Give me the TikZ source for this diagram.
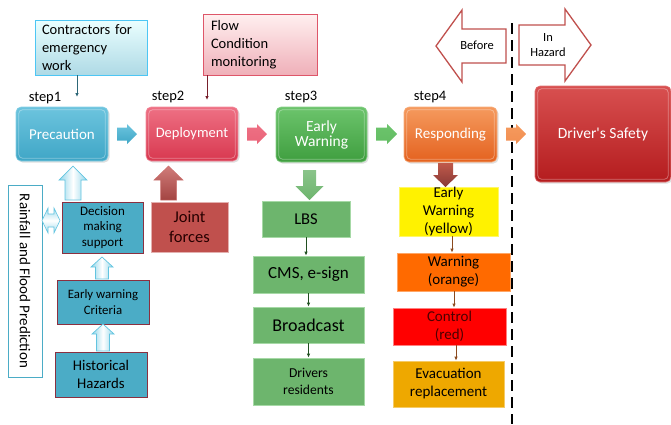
\documentclass[tikz,border=0pt]{standalone}
\usepackage{fontspec}
\setmainfont{Carlito}
\usetikzlibrary{arrows.meta,calc,shadows}
\definecolor{precC}{HTML}{3FA6C6}
\definecolor{precT}{HTML}{6CC4DE}
\definecolor{depC}{HTML}{D8384F}
\definecolor{depT}{HTML}{EE7084}
\definecolor{ewC}{HTML}{3F9E3F}
\definecolor{ewT}{HTML}{6CC46C}
\definecolor{resC}{HTML}{E4621F}
\definecolor{resT}{HTML}{F59A5E}
\definecolor{dsC}{HTML}{B41C1E}
\definecolor{dsT}{HTML}{D85050}
\definecolor{hazB}{HTML}{4BACC6}
\definecolor{hazE}{HTML}{8B3040}
\definecolor{jfC}{HTML}{C0504D}
\definecolor{grC}{HTML}{6DB56D}
\definecolor{grE}{HTML}{A6D9A6}
\definecolor{ambC}{HTML}{EEA800}
\definecolor{orC}{HTML}{FF6A00}
\definecolor{brC}{HTML}{8B4A1E}
\definecolor{lbl}{HTML}{A8DDF0}
\definecolor{lblE}{HTML}{62C4E0}
\newcommand\hblock[7]{\draw[#1] (#2,#5-#6) -- (#3,#5-#6) -- (#3,#5-#7) -- (#4,#5) -- (#3,#5+#7) -- (#3,#5+#6) -- (#2,#5+#6) -- cycle;}
\newcommand\vblock[7]{\draw[#1] (#5-#6,#2) -- (#5-#6,#3) -- (#5-#7,#3) -- (#5,#4) -- (#5+#7,#3) -- (#5+#6,#3) -- (#5+#6,#2) -- cycle;}
\tikzset{
  fs/.code={\pgfmathsetmacro\fsb{#1*1.2}\edef\fsx{\noexpand\fontsize{#1}{\fsb}\noexpand\selectfont}\tikzset{font/.expand once=\fsx}},
  fsl/.code 2 args={\edef\fsx{\noexpand\fontsize{#1}{#2}\noexpand\selectfont}\tikzset{font/.expand once=\fsx}},
  stepbox/.style={rounded corners=5pt, draw=#1T!80!white, line width=0.6pt, top color=#1T, bottom color=#1C, text=white, align=center, inner sep=0pt, drop shadow={opacity=0.25,shadow xshift=1.5pt,shadow yshift=-1.5pt}},
  steplbl/.style={fs=14.5, inner sep=0pt},
  flatbox/.style={draw=#1, line width=0.8pt, align=center, inner sep=0pt},
  thinarr/.style={-{Latex[length=4pt,width=3.5pt]}, line width=0.8pt},
}
\begin{document}
\begin{tikzpicture}[x=1pt,y=-1pt]
\useasboundingbox (0,0) rectangle (671,424);

% top note boxes
\node[flatbox=cyan!70!white, top color=cyan!8!white, bottom color=hazB!45!white, minimum width=112pt, minimum height=55pt, fsl={14.5}{18}, align=left, text width=98pt] (contr) at (91,47.5) {Contractors for\\emergency\\work};
\node[flatbox=depC!85!white, top color=red!6!white, bottom color=depC!40!white, minimum width=114pt, minimum height=61pt, fsl={14.5}{18}, align=left, text width=98pt] (flow) at (260,44.5) {Flow\\Condition\\monitoring};

% step labels
\node[steplbl] (s1) at (45,98) {step1};
\node[steplbl] (s2) at (168,97) {step2};
\node[steplbl] (s3) at (301,97) {step3};
\node[steplbl] (s4) at (430,97) {step4};

% step boxes
\node[stepbox=prec, minimum width=92pt, minimum height=54pt, fs=15] (prec) at (62,134) {Precaution};
\node[stepbox=dep, minimum width=92pt, minimum height=54pt, fs=14.5] (dep) at (192,134) {Deployment};
\node[stepbox=ew, minimum width=91pt, minimum height=55pt, fsl={15.5}{15}] (ew) at (321.5,134.5) {Early\\Warning};
\node[stepbox=res, minimum width=93pt, minimum height=55pt, fs=15] (res) at (450.5,134.5) {Responding};
\node[stepbox=ds, minimum width=136pt, minimum height=96pt, fs=15.5] (ds) at (603,134) {Driver\textquotesingle s Safety};
\foreach \n in {prec,dep,ew,res,ds}{
  \draw[white, opacity=0.35, line width=0.8pt, rounded corners=4pt] ([shift={(3,3)}]\n.north west) rectangle ([shift={(-3,-3)}]\n.south east);
}

% thin arrows from note boxes
\coordinate (c1) at (77,97);
\coordinate (c2) at (207,100);
\draw[thinarr, draw=hazB!60!black] (contr.south -| c1) -- (c1);
\draw[thinarr, draw=depC!55!black] (flow.south -| c2) -- (c2);

% before / in hazard arrows
\hblock{draw=jfC, line width=1.3pt, fill=white}{506}{462}{436}{46}{17}{36}
\hblock{draw=jfC, line width=1.3pt, fill=white}{519}{565}{591}{45}{20}{36}
\node[fs=12.5, inner sep=0pt] (before) at (477,45) {Before};
\node[fs=12.5, inner sep=0pt, align=center] (inhaz) at (548,45) {In\\Hazard};

% dashed separator
\coordinate (dtop) at (512,23);
\coordinate (dbot) at (512,424);
\draw[line width=2.6pt, dash pattern=on 11pt off 6pt] (dtop) -- (dbot);

% block arrows between steps
\hblock{draw=none, top color=precT, bottom color=precC}{117}{127}{137}{134}{6.5}{10}
\hblock{draw=none, top color=depT, bottom color=depT!80!depC}{247}{257}{267}{134}{6.5}{10}
\hblock{draw=none, top color=ewT, bottom color=ewT!80!ewC}{376}{387}{397}{134}{6.5}{10}
\hblock{draw=none, top color=resT, bottom color=resT!80!resC}{506}{516}{526}{134}{6.5}{10}

% left column
\node[flatbox=hazB, fill=white, minimum width=192pt, minimum height=34pt, rotate=-90, fs=15] (rain) at (25,281) {Rainfall and Flood Prediction};
\node[flatbox=hazE, fill=hazB, minimum width=81pt, minimum height=51pt, fsl={13}{15.5}] (dec) at (102.5,227.5) {Decision\\making\\support};
\node[flatbox=jfC!45!white, fill=jfC, minimum width=77pt, minimum height=50pt, fsl={16.5}{20}, text=black!85!red] (jf) at (189.5,227) {Joint\\forces};
\node[flatbox=hazE, fill=hazB, minimum width=92pt, minimum height=44pt, fsl={12.8}{16}] (crit) at (103,302) {Early warning\\Criteria};
\node[flatbox=hazE, fill=hazB, minimum width=92pt, minimum height=45pt, fsl={14.8}{17.5}] (hist) at (101,374.5) {Historical\\Hazards};

\vblock{draw=lblE, line width=0.7pt, left color=lblE!70!white, right color=lblE!70!white, middle color=white}{200}{180}{166}{73}{8}{14}
\vblock{draw=jfC!80!white, line width=0.5pt, top color=jfC!75!white, bottom color=jfC!85!black}{200}{180}{166}{168.5}{8}{14.5}
\vblock{draw=lblE, line width=0.7pt, left color=lblE!70!white, right color=lblE!70!white, middle color=white}{279}{267}{257}{102}{6.5}{11}
\vblock{draw=lblE, line width=0.7pt, left color=lblE!70!white, right color=lblE!70!white, middle color=white}{351}{334}{324}{103}{6.5}{11}
\draw[draw=lblE, line width=0.6pt, top color=lblE!60!white, bottom color=lblE!60!white, middle color=white]
  (42,220.5) -- (48,208) -- (48,214) -- (54,214) -- (54,208) -- (60,220.5) -- (54,233) -- (54,227) -- (48,227) -- (48,233) -- cycle;

% green column
\node[flatbox=grE, fill=grC, minimum width=88pt, minimum height=36pt, fs=16.5] (lbs) at (306,219) {LBS};
\node[flatbox=grE, fill=grC, minimum width=111pt, minimum height=37pt, fs=17] (cms) at (308.5,274.5) {CMS, e-sign};
\node[flatbox=grE, fill=grC, minimum width=111pt, minimum height=36pt, fs=18] (bc) at (308.5,325) {Broadcast};
\node[flatbox=grE, fill=grC, minimum width=111pt, minimum height=47pt, fsl={13.6}{17}] (drv) at (308.5,381.5) {Drivers\\residents};
\vblock{draw=none, top color=grC!80!white, bottom color=grC}{170}{186}{200}{309.5}{6.5}{14}
\draw[thinarr, draw=ewC!50!black] (lbs.south) -- (cms.north -| lbs.south);
\draw[thinarr, draw=ewC!50!black] (cms.south) -- (bc.north);
\draw[thinarr, draw=ewC!50!black] (bc.south) -- (drv.north);

% alert column
\node[flatbox=yellow!60!white, fill=yellow, minimum width=99pt, minimum height=49pt, fsl={15}{18}] (yel) at (448.5,211.5) {Early\\Warning\\(yellow)};
\node[flatbox=orC!60!white, fill=orC, minimum width=113pt, minimum height=38pt, fsl={15}{18}] (ora) at (453.5,272) {Warning\\(orange)};
\node[flatbox=red!50!white, fill=red, minimum width=113pt, minimum height=37pt, fsl={15}{18}, text=black!70!red] (redb) at (449.5,326.5) {Control\\(red)};
\node[flatbox=ambC!60!white, fill=ambC, minimum width=111pt, minimum height=46pt, fsl={15}{18}] (evac) at (448.5,384) {Evacuation\\replacement};
\vblock{draw=none, top color=jfC!80!brown, bottom color=jfC!70!black}{163}{175}{187}{445.5}{7.5}{12.5}
\coordinate (a1) at (452,236);
\coordinate (a2) at (454,291);
\coordinate (a3) at (456,345);
\draw[thinarr, draw=brC] (a1) -- (a1 |- ora.north);
\draw[thinarr, draw=brC] (a2) -- (a2 |- redb.north);
\draw[thinarr, draw=brC] (a3) -- (a3 |- evac.north);
\end{tikzpicture}
\end{document}
